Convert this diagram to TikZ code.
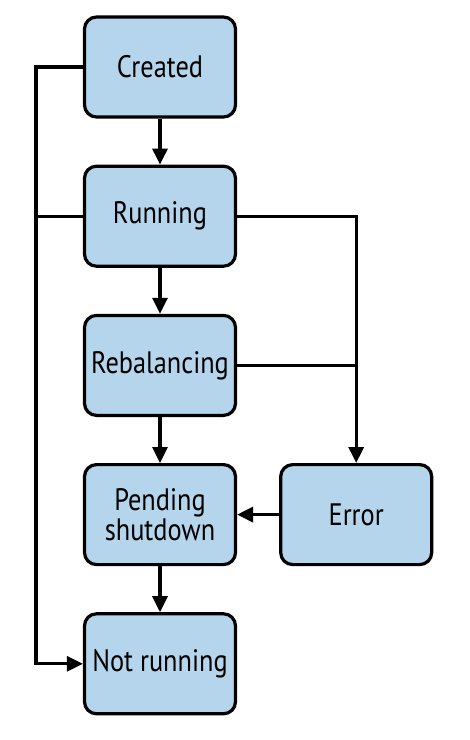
\documentclass[tikz,border=0pt]{standalone}
\usepackage{fontspec}
\setmainfont{PT Sans}[FakeStretch=0.85]
\usepackage{tikz}
\usetikzlibrary{arrows.meta, positioning}
\definecolor{stateblue}{RGB}{180,213,235}

\begin{document}
\begin{tikzpicture}[x=1pt, y=-1pt, node distance=46pt and 42pt,
  state/.style={draw, line width=3.2pt, rounded corners=12pt, fill=stateblue,
    minimum width=151pt, minimum height=100pt, align=center,
    font=\fontsize{31}{27}\selectfont},
  link/.style={line width=3.2pt, -{Triangle[length=16pt,width=15pt]}},
  plain/.style={line width=3.2pt}]
\useasboundingbox (0,0) rectangle (470,740);

\node[state] (created) at (160,67) {Created};
\node[state, below=of created] (running) {Running};
\node[state, below=of running] (rebalancing) {Rebalancing};
\node[state, below=of rebalancing] (pending) {Pending\\shutdown};
\node[state, below=of pending] (notrunning) {Not running};
\node[state, right=of pending] (error) {Error};

%.... main chain
\draw[link] (created) -- (running);
\draw[link] (running) -- (rebalancing);
\draw[link] (rebalancing) -- (pending);
\draw[link] (pending) -- (notrunning);

%.... left rail
\draw[link] (created.west) -- ++(-47,0) |- (notrunning.west);
\draw[plain] (running.west) -- ++(-47,0);

%.... right rail
\draw[link] (running.east) -| (error.north);
\draw[plain] (rebalancing.east) -- (rebalancing.east -| error.north);
\draw[link] (error.west) -- (pending.east);
\end{tikzpicture}
\end{document}
